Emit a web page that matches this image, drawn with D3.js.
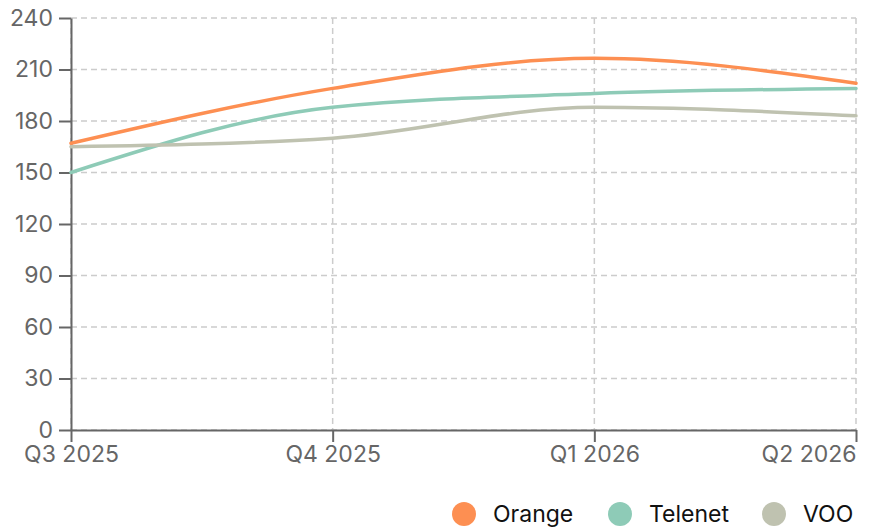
<!DOCTYPE html>
<html>
<head>
<meta charset="utf-8">
<script src="https://cdn.jsdelivr.net/npm/d3@7"></script>
<style>
  html, body { margin: 0; padding: 0; background: #fff; }
  svg { display: block; font-family: Inter, "Noto Sans", sans-serif; }
</style>
</head>
<body>
<svg id="chart" width="873" height="529"></svg>
<script>
const categories = ["Q3 2025", "Q4 2025", "Q1 2026", "Q2 2026"];
const seriesNames = ["Orange", "Telenet", "VOO"];
const orangeValues = [167, 199, 216.5, 202];
const telenetValues = [150, 188, 196, 199];
const vooValues = [165, 170, 188, 183];
const yTicks = [0, 30, 60, 90, 120, 150, 180, 210, 240];
const colors = ["#fd8f52", "#8ecbb7", "#bfc2b0"];

const seriesValues = [orangeValues, telenetValues, vooValues];
const series = seriesNames.map((name, i) => ({ name, values: seriesValues[i], color: colors[i] }));

const W = 873, H = 529;
const margin = { top: 18, right: 17, bottom: 99, left: 71 };
const FS = 23;
const svg = d3.select("#chart");

const x = d3.scalePoint().domain(categories).range([margin.left, W - margin.right]);
const y = d3.scaleLinear().domain([0, 240]).range([H - margin.bottom, margin.top]);

// grid
const grid = svg.append("g");
grid.selectAll("line.h").data(yTicks).join("line")
  .attr("x1", margin.left).attr("x2", W - margin.right)
  .attr("y1", d => y(d)).attr("y2", d => y(d))
  .attr("stroke", "#cccccc").attr("stroke-width", 1.5).attr("stroke-dasharray", "6,4");
grid.selectAll("line.v").data(categories).join("line")
  .attr("x1", d => x(d)).attr("x2", d => x(d))
  .attr("y1", margin.top).attr("y2", H - margin.bottom)
  .attr("stroke", "#cccccc").attr("stroke-width", 1.5).attr("stroke-dasharray", "6,4");

// axes
const yAxis = svg.append("g")
  .attr("transform", `translate(${margin.left},0)`)
  .call(d3.axisLeft(y).tickValues(yTicks).tickSize(12).tickPadding(6).tickSizeOuter(0));
const xAxis = svg.append("g")
  .attr("transform", `translate(0,${H - margin.bottom})`)
  .call(d3.axisBottom(x).tickSize(12).tickPadding(4).tickSizeOuter(0));

[yAxis, xAxis].forEach(a => {
  a.attr("font-size", FS).attr("font-family", "Inter, 'Noto Sans', sans-serif");
  a.select(".domain").attr("stroke", "#666").attr("stroke-width", 2);
  a.selectAll(".tick line").attr("stroke", "#666").attr("stroke-width", 2);
  a.selectAll(".tick text").attr("fill", "#666").attr("font-size", FS);
});
xAxis.selectAll(".tick text").filter((d, i, n) => i === n.length - 1).attr("text-anchor", "end");

// lines
const line = d3.line()
  .x((d, i) => x(categories[i]))
  .y(d => y(d))
  .curve(d3.curveMonotoneX);

svg.append("g").selectAll("path").data(series).join("path")
  .attr("d", d => line(d.values))
  .attr("fill", "none")
  .attr("stroke", d => d.color)
  .attr("stroke-width", 3.5)
  .attr("stroke-linecap", "round");

// legend
const legendX = [464, 620, 774];
const legend = svg.append("g");
const items = legend.selectAll("g").data(series).join("g")
  .attr("transform", (d, i) => `translate(${legendX[i]},514)`);
items.append("circle").attr("r", 12).attr("fill", d => d.color);
items.append("text").attr("x", 29).attr("dy", "0.35em")
  .attr("font-size", FS).attr("fill", "#111")
  .text(d => d.name);
</script>
</body>
</html>
